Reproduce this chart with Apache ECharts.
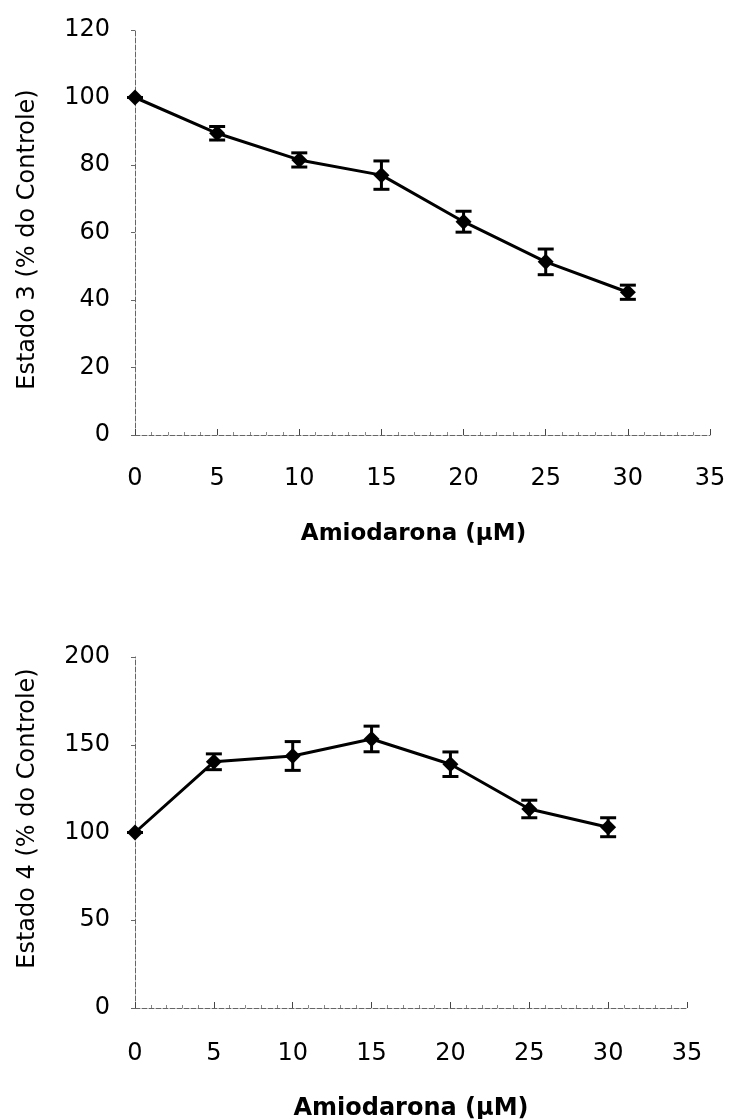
<!DOCTYPE html>
<html>
<head>
<meta charset="utf-8">
<script src="https://cdn.jsdelivr.net/npm/echarts@6/dist/echarts.min.js"></script>
<style>
  html, body { margin: 0; padding: 0; background: #fff; }
  #chart { width: 729px; height: 1119px; }
</style>
</head>
<body>
<div id="chart"></div>
<script>
// Amiodarone concentrations (µM)
const concentrations = [0, 5, 10, 15, 20, 25, 30];

// State 3 respiration, % of control, with SEM
const estado3Mean = [100, 89.4, 81.5, 77, 63.2, 51.3, 42.3];
const estado3Err  = [0, 2, 2.1, 4.2, 3.1, 3.8, 2.1];

// State 4 respiration, % of control, with SEM
const estado4Mean = [100, 140.3, 143.6, 153.3, 138.9, 113.4, 103];
const estado4Err  = [0, 4.5, 8.2, 7.3, 7, 5, 5.4];

const xTitle = 'Amiodarona (µM)';
const yTitle3 = 'Estado 3 (% do Controle)';
const yTitle4 = 'Estado 4 (% do Controle)';

const FONT = '"DejaVu Sans", "Noto Sans", sans-serif';
const INK = '#000';

const pairs = (ys) => concentrations.map((x, i) => [x, ys[i]]);
const errRows = (ys, es) => concentrations.map((x, i) => [x, ys[i] - es[i], ys[i] + es[i]]);

function errorBars(xAxisIndex, yAxisIndex, rows) {
  return {
    type: 'custom',
    xAxisIndex, yAxisIndex,
    z: 3,
    silent: true,
    data: rows,
    renderItem(params, api) {
      const x = api.value(0);
      const lo = api.coord([x, api.value(1)]);
      const hi = api.coord([x, api.value(2)]);
      const half = 8;
      const style = { stroke: INK, lineWidth: 3 };
      return {
        type: 'group',
        children: [
          { type: 'line', shape: { x1: lo[0], y1: lo[1], x2: hi[0], y2: hi[1] }, style },
          { type: 'line', shape: { x1: lo[0] - half, y1: lo[1], x2: lo[0] + half, y2: lo[1] }, style },
          { type: 'line', shape: { x1: hi[0] - half, y1: hi[1], x2: hi[0] + half, y2: hi[1] }, style }
        ]
      };
    }
  };
}

function lineSeries(xAxisIndex, yAxisIndex, ys) {
  return {
    type: 'line',
    xAxisIndex, yAxisIndex,
    z: 4,
    data: pairs(ys),
    symbol: 'diamond',
    symbolSize: 16,
    itemStyle: { color: INK },
    lineStyle: { color: INK, width: 3 },
    silent: true,
    animation: false
  };
}

const axisLine = { show: true, lineStyle: { color: '#666', width: 1, type: [5, 2] } };

function xAxis(gridIndex, nameGap, labelMargin, nameSize, namePad) {
  return {
    type: 'value', gridIndex,
    min: 0, max: 35, interval: 5,
    name: xTitle, nameLocation: 'middle', nameGap,
    nameTextStyle: { fontFamily: FONT, fontSize: nameSize, fontWeight: 'bold', color: INK, padding: namePad },
    axisLine,
    axisTick: { show: true, length: 6, inside: true, lineStyle: { color: '#444' } },
    minorTick: { show: true, splitNumber: 5, length: 3, lineStyle: { color: '#888' } },
    splitLine: { show: false },
    axisLabel: { fontFamily: FONT, fontSize: 24, color: INK, margin: labelMargin }
  };
}

function yAxis(gridIndex, max, interval, name, namePad) {
  return {
    type: 'value', gridIndex,
    min: 0, max, interval,
    name, nameLocation: 'middle', nameGap: 95, nameRotate: 90,
    nameTextStyle: { fontFamily: FONT, fontSize: 24, color: INK, padding: namePad },
    axisLine,
    axisTick: { show: true, length: 4, lineStyle: { color: '#666' } },
    splitLine: { show: false },
    axisLabel: { fontFamily: FONT, fontSize: 24, color: INK, margin: 25 }
  };
}

const chart = echarts.init(document.getElementById('chart'), null, { renderer: 'canvas' });
chart.setOption({
  backgroundColor: '#fff',
  animation: false,
  grid: [
    { left: 135, top: 30, width: 575, height: 405, outerBoundsMode: 'none' },
    { left: 135, top: 657, width: 552, height: 351, outerBoundsMode: 'none' }
  ],
  xAxis: [xAxis(0, 88, 32, 23, [0, 18, 0, 0]), xAxis(1, 89, 34, 24, [0, 0, 0, 0])],
  yAxis: [
    yAxis(0, 120, 20, yTitle3, [0, 14, 0, 0]),
    yAxis(1, 200, 50, yTitle4, [0, 0, 0, 28])
  ],
  series: [
    errorBars(0, 0, errRows(estado3Mean, estado3Err)),
    lineSeries(0, 0, estado3Mean),
    errorBars(1, 1, errRows(estado4Mean, estado4Err)),
    lineSeries(1, 1, estado4Mean)
  ]
});
</script>
</body>
</html>
